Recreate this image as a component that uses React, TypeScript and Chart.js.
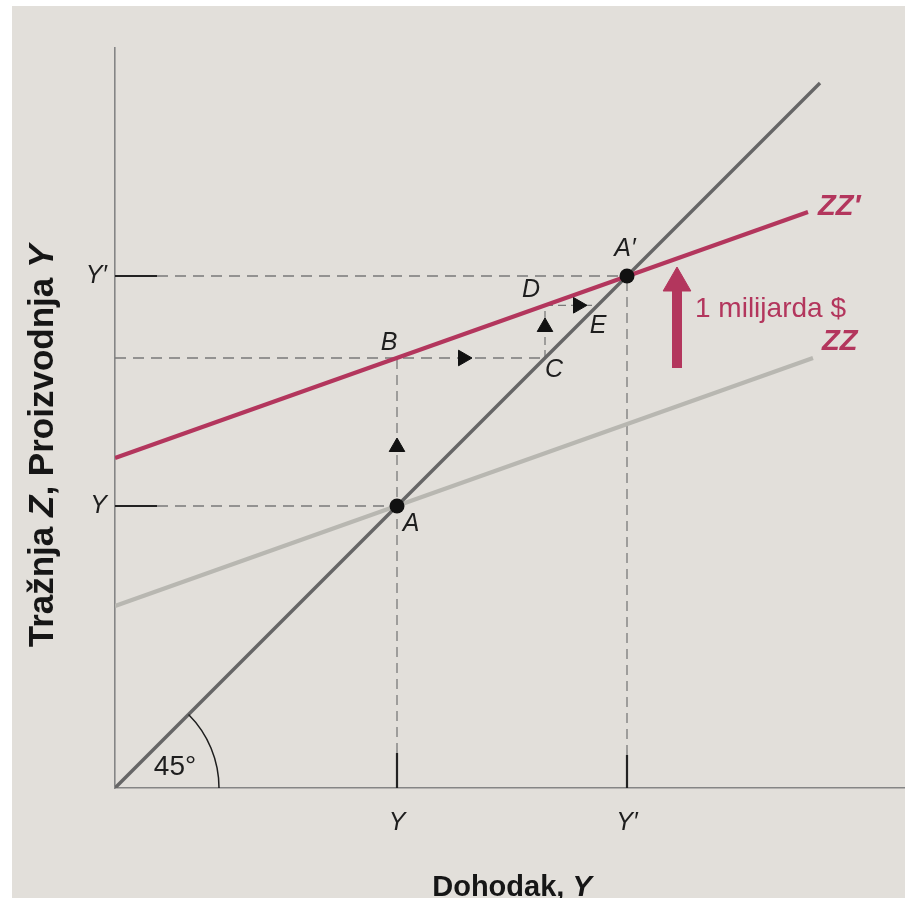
import React, { useEffect, useRef } from "react";
import { Chart, registerables } from "chart.js";

Chart.register(...registerables);

const FONT = '"Liberation Sans", Arial, Helvetica, sans-serif';

// ---- axis extents (diagram units) ----
const xMax = 79;
const yMax = 74;

// ---- tick values and labels ----
const tickValues = [28.2, 51.2];
const xTickLabels = ["Y", "Y′"];
const yTickLabels = ["Y", "Y′"];

// ---- main lines ----
const line45 = [{ x: 0, y: 0 }, { x: 70.5, y: 70.5 }];
const zzLine = [{ x: 0, y: 18.2 }, { x: 69.8, y: 43.0 }];
const zzPrimeLine = [{ x: 0, y: 33.0 }, { x: 69.3, y: 57.6 }];

// ---- equilibrium points A, A' ----
const equilibriumPoints = [{ x: 28.2, y: 28.2 }, { x: 51.2, y: 51.2 }];

// ---- dashed guides ----
const guideY_H = [{ x: 4.2, y: 28.2 }, { x: 28.2, y: 28.2 }];
const guideYp_H = [{ x: 4.2, y: 51.2 }, { x: 51.2, y: 51.2 }];
const guideB_H = [{ x: 0, y: 43.0 }, { x: 43.0, y: 43.0 }];
const guideY_V = [{ x: 28.2, y: 3.5 }, { x: 28.2, y: 43.0 }];
const guideYp_V = [{ x: 51.2, y: 3.3 }, { x: 51.2, y: 51.2 }];
const guideCD = [{ x: 43.0, y: 43.0 }, { x: 43.0, y: 48.27 }];
const guideDE = [{ x: 43.0, y: 48.27 }, { x: 48.27, y: 48.27 }];

// ---- solid tick segments ----
const tickY_H = [{ x: 0, y: 28.2 }, { x: 4.2, y: 28.2 }];
const tickYp_H = [{ x: 0, y: 51.2 }, { x: 4.2, y: 51.2 }];
const tickY_V = [{ x: 28.2, y: 0 }, { x: 28.2, y: 3.5 }];
const tickYp_V = [{ x: 51.2, y: 0 }, { x: 51.2, y: 3.3 }];

// ---- direction arrows ----
const upArrows = [{ x: 28.2, y: 34.1 }, { x: 43.0, y: 46.1 }];
const rightArrows = [{ x: 34.8, y: 43.0 }, { x: 46.3, y: 48.27 }];

// ---- demand shift arrow ----
const shiftShaft = [{ x: 56.2, y: 42.0 }, { x: 56.2, y: 50.2 }];
const shiftHead = [{ x: 56.2, y: 50.5 }];

// ---- text annotations ----
const pointNames = ["A", "A′", "B", "C", "D", "E"];
const pointNameAt = [
  [29.6, 26.6],
  [51.0, 54.1],
  [27.4, 44.7],
  [43.9, 42.0],
  [41.6, 50.0],
  [48.3, 46.4],
];
const curveNames = ["ZZ′", "ZZ"];
const curveNameAt = [
  [70.3, 58.3],
  [70.7, 44.8],
];
const shiftLabel = "1 milijarda $";
const shiftLabelAt = [58.0, 48.1];
const angleLabel = "45°";
const angleLabelAt = [6.0, 2.3];
const angleArcRadius = 10.4;

const xTitleParts = [
  { t: "Dohodak, ", italic: false },
  { t: "Y", italic: true },
];
const yTitleParts = [
  { t: "Tražnja ", italic: false },
  { t: "Z", italic: true },
  { t: ", Proizvodnja ", italic: false },
  { t: "Y", italic: true },
];

const RED = "#b3365d";
const DARK = "#1e1e1e";

function seg(data: any[], color: string, width: number, dash: number[] | undefined, order: number) {
  return {
    data,
    showLine: true,
    borderColor: color,
    borderWidth: width,
    borderDash: dash || [],
    pointRadius: 0,
    pointHoverRadius: 0,
    fill: false,
    order,
  };
}

function drawParts(ctx: CanvasRenderingContext2D, parts: { t: string; italic: boolean }[], size: number) {
  const widths = parts.map((p) => {
    ctx.font = `${p.italic ? "italic " : ""}bold ${size}px ${FONT}`;
    return ctx.measureText(p.t).width;
  });
  const total = widths.reduce((a, b) => a + b, 0);
  let x = -total / 2;
  parts.forEach((p, i) => {
    ctx.font = `${p.italic ? "italic " : ""}bold ${size}px ${FONT}`;
    ctx.fillText(p.t, x, 0);
    x += widths[i];
  });
}

const diagramPlugin = {
  id: "diagram",
  beforeDraw(chart: any) {
    const { ctx, width, height } = chart;
    ctx.save();
    ctx.fillStyle = "#ffffff";
    ctx.fillRect(0, 0, width, height);
    ctx.fillStyle = "#e2dfda";
    ctx.fillRect(12, 6, width - 12, height - 6);
    ctx.restore();
  },
  afterDatasetsDraw(chart: any) {
    const { ctx, chartArea } = chart;
    const xs = chart.scales.x;
    const ys = chart.scales.y;
    const px = (v: number) => xs.getPixelForValue(v);
    const py = (v: number) => ys.getPixelForValue(v);

    const text = (s: string, x: number, y: number, font: string, size: number, color: string, align: CanvasTextAlign) => {
      ctx.font = `${font} ${size}px ${FONT}`;
      ctx.fillStyle = color;
      ctx.textAlign = align;
      ctx.textBaseline = "alphabetic";
      ctx.fillText(s, x, y + size * 0.358);
    };

    ctx.save();
    pointNames.forEach((n, i) => {
      text(n, px(pointNameAt[i][0]), py(pointNameAt[i][1]), "italic", 25, DARK, "center");
    });
    curveNames.forEach((n, i) => {
      text(n, px(curveNameAt[i][0]), py(curveNameAt[i][1]), "italic bold", 29, RED, "left");
    });
    text(shiftLabel, px(shiftLabelAt[0]), py(shiftLabelAt[1]), "normal", 28, RED, "left");
    text(angleLabel, px(angleLabelAt[0]), py(angleLabelAt[1]), "normal", 28, DARK, "center");
    const r = px(angleArcRadius) - px(0);
    ctx.beginPath();
    ctx.strokeStyle = DARK;
    ctx.lineWidth = 1.5;
    ctx.arc(px(0), py(0), r, -Math.PI / 4, 0);
    ctx.stroke();

    ctx.fillStyle = "#161616";
    ctx.textAlign = "left";
    ctx.textBaseline = "alphabetic";
    ctx.save();
    ctx.translate((chartArea.left + chartArea.right) / 2 + 2, chartArea.bottom + 108);
    drawParts(ctx, xTitleParts, 29);
    ctx.restore();

    ctx.save();
    ctx.translate(53, py(34.2));
    ctx.rotate(-Math.PI / 2);
    drawParts(ctx, yTitleParts, 35);
    ctx.restore();

    ctx.restore();
  },
};

export default function App() {
  const ref = useRef<HTMLCanvasElement | null>(null);

  useEffect(() => {
    const canvas = ref.current;
    if (!canvas) return;
    document.body.style.margin = "0";

    const datasets: any[] = [
      {
        data: equilibriumPoints,
        showLine: false,
        pointRadius: 7.5,
        pointBackgroundColor: "#111111",
        pointBorderColor: "#111111",
        pointBorderWidth: 0,
        order: 0,
      },
      {
        data: upArrows,
        showLine: false,
        pointStyle: "triangle",
        rotation: 0,
        pointRadius: 9,
        pointBackgroundColor: "#111111",
        pointBorderColor: "#111111",
        pointBorderWidth: 1,
        order: 1,
      },
      {
        data: rightArrows,
        showLine: false,
        pointStyle: "triangle",
        rotation: 90,
        pointRadius: 9,
        pointBackgroundColor: "#111111",
        pointBorderColor: "#111111",
        pointBorderWidth: 1,
        order: 1,
      },
      {
        data: shiftHead,
        showLine: false,
        pointStyle: "triangle",
        rotation: 0,
        pointRadius: 16,
        pointBackgroundColor: RED,
        pointBorderColor: RED,
        pointBorderWidth: 1,
        order: 2,
      },
      seg(shiftShaft, RED, 10, undefined, 2),
      seg(zzPrimeLine, RED, 4.2, undefined, 3),
      seg(line45, "#666666", 3.4, undefined, 4),
      seg(zzLine, "#b8b7b1", 4.2, undefined, 5),
      seg(guideY_H, "#7a7a7a", 1.3, [11, 7], 6),
      seg(guideYp_H, "#7a7a7a", 1.3, [11, 7], 6),
      seg(guideB_H, "#7a7a7a", 1.3, [11, 7], 6),
      seg(guideY_V, "#7a7a7a", 1.3, [10, 6], 6),
      seg(guideYp_V, "#7a7a7a", 1.3, [10, 6], 6),
      seg(guideCD, "#7a7a7a", 1.3, [8, 5], 6),
      seg(guideDE, "#7a7a7a", 1.3, [8, 5], 6),
      seg(tickY_H, "#222222", 2.2, undefined, 6),
      seg(tickYp_H, "#222222", 2.2, undefined, 6),
      seg(tickY_V, "#222222", 2.2, undefined, 6),
      seg(tickYp_V, "#222222", 2.2, undefined, 6),
    ];

    const chart = new Chart(canvas, {
      type: "scatter",
      data: { datasets },
      options: {
        animation: false,
        responsive: false,
        devicePixelRatio: 1,
        events: [],
        layout: { autoPadding: false, padding: { top: 48, right: 0, left: 0, bottom: 0 } },
        plugins: {
          legend: { display: false },
          tooltip: { enabled: false },
          title: { display: false },
        },
        scales: {
          x: {
            type: "linear",
            position: "bottom",
            min: 0,
            max: xMax,
            afterBuildTicks: (s: any) => {
              s.ticks = tickValues.map((v) => ({ value: v }));
            },
            afterFit: (s: any) => {
              s.height = 110;
              s.paddingLeft = 0;
              s.paddingRight = 0;
            },
            ticks: {
              autoSkip: false,
              maxRotation: 0,
              padding: 20,
              color: DARK,
              font: { family: FONT, size: 25, style: "italic" },
              callback: (_v: any, i: number) => xTickLabels[i],
            },
            grid: { display: false, drawTicks: false },
            border: { display: true, color: "#858585", width: 1.6 },
          },
          y: {
            type: "linear",
            position: "left",
            min: 0,
            max: yMax,
            afterBuildTicks: (s: any) => {
              s.ticks = tickValues.map((v) => ({ value: v }));
            },
            afterFit: (s: any) => {
              s.width = 115;
              s.paddingTop = 0;
              s.paddingBottom = 0;
            },
            ticks: {
              autoSkip: false,
              padding: 8,
              color: DARK,
              font: { family: FONT, size: 25, style: "italic" },
              callback: (_v: any, i: number) => yTickLabels[i],
            },
            grid: { display: false, drawTicks: false },
            border: { display: true, color: "#858585", width: 1.6 },
          },
        },
      } as any,
      plugins: [diagramPlugin as any],
    });

    return () => chart.destroy();
  }, []);

  return (
    <div style={{ position: "absolute", left: 0, top: 0, width: 905, height: 898 }}>
      <canvas ref={ref} width={905} height={898} style={{ display: "block", width: 905, height: 898 }} />
    </div>
  );
}
